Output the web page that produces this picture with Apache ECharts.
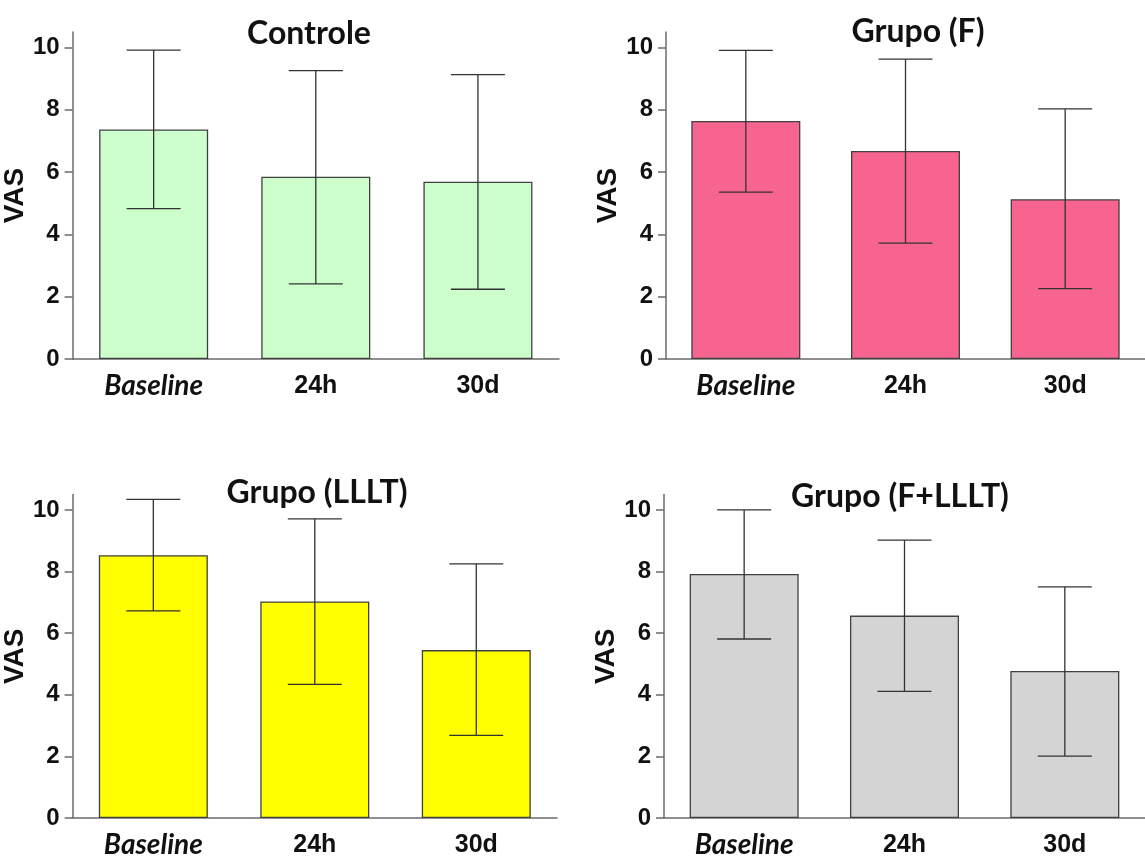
<!DOCTYPE html>
<html>
<head>
<meta charset="utf-8">
<script src="https://cdn.jsdelivr.net/npm/echarts@6/dist/echarts.min.js"></script>
<style>
  html, body { margin: 0; padding: 0; background: #fff; }
  #chart { width: 1145px; height: 859px; }
</style>
</head>
<body>
<div id="chart"></div>
<script>
const categories = ['Baseline', '24h', '30d'];
const yTicks = [0, 2, 4, 6, 8, 10];

// mean and error bar ends
const controleMean = [7.37, 5.85, 5.69];
const controleHigh = [9.92, 9.26, 9.13];
const controleLow = [4.83, 2.41, 2.24];

const fMean = [7.64, 6.68, 5.13];
const fHigh = [9.91, 9.63, 8.03];
const fLow = [5.36, 3.72, 2.26];

const llltMean = [8.53, 7.03, 5.45];
const llltHigh = [10.34, 9.71, 8.25];
const llltLow = [6.72, 4.34, 2.68];

const flllt_Mean = [7.92, 6.57, 4.77];
const flllt_High = [10.0, 9.02, 7.5];
const flllt_Low = [5.81, 4.11, 2.01];

const panels = [
  { title: 'Controle', mean: controleMean, high: controleHigh, low: controleLow, color: '#ccffcc',
    grid: { left: 68, top: 32, width: 491, height: 327 }, titlePos: [309, 34] },
  { title: 'Grupo (F)', mean: fMean, high: fHigh, low: fLow, color: '#f7648f',
    grid: { left: 666, top: 32, width: 491, height: 327 }, titlePos: [918, 32] },
  { title: 'Grupo (LLLT)', mean: llltMean, high: llltHigh, low: llltLow, color: '#ffff00',
    grid: { left: 67, top: 494.5, width: 490, height: 327 }, titlePos: [317, 493] },
  { title: 'Grupo (F+LLLT)', mean: flllt_Mean, high: flllt_High, low: flllt_Low, color: '#d4d4d4',
    grid: { left: 664, top: 494.5, width: 491, height: 327 }, titlePos: [900, 497] }
];

const axisColor = '#6b6b6b';

const chart = echarts.init(document.getElementById('chart'));

const option = {
  animation: false,
  grid: panels.map(p => p.grid),
  xAxis: panels.map((p, i) => ({
    type: 'category',
    gridIndex: i,
    data: categories,
    axisLine: { lineStyle: { color: axisColor, width: 1.5 } },
    axisTick: { alignWithLabel: true, length: 8, lineStyle: { color: axisColor, width: 1.5 } },
    axisLabel: {
      interval: 0,
      margin: 12,
      color: '#111',
      formatter: v => v === 'Baseline' ? '{it|' + v + '}' : '{n|' + v + '}',
      rich: {
        it: { fontFamily: 'Lato', fontWeight: 'bold', fontStyle: 'italic', fontSize: 28, lineHeight: 30, color: '#111' },
        n: { fontFamily: 'Liberation Sans', fontWeight: 'bold', fontSize: 25, lineHeight: 30, color: '#111' }
      }
    }
  })),
  yAxis: panels.map((p, i) => ({
    type: 'value',
    gridIndex: i,
    min: 0,
    max: 10.5,
    interval: 2,
    name: 'VAS',
    nameLocation: 'middle',
    nameGap: 34,
    nameTextStyle: { fontFamily: 'Liberation Sans', fontWeight: 'bold', fontSize: 28, color: '#111' },
    splitLine: { show: false },
    axisLine: { show: true, lineStyle: { color: axisColor, width: 1.5 } },
    axisTick: { show: true, length: 8, lineStyle: { color: axisColor, width: 1.5 } },
    axisLabel: {
      margin: 13,
      showMaxLabel: false,
      fontFamily: 'Liberation Sans',
      fontWeight: 'bold',
      fontSize: 24,
      color: '#111',
      formatter: v => yTicks.indexOf(v) >= 0 ? String(v) : ''
    }
  })),
  graphic: panels.map(p => ({
    type: 'text',
    x: p.titlePos[0],
    y: p.titlePos[1],
    style: {
      text: p.title,
      align: 'center',
      verticalAlign: 'middle',
      font: 'bold 32px Lato',
      fill: '#111'
    }
  })),
  series: []
};

panels.forEach((p, i) => {
  option.series.push({
    type: 'bar',
    xAxisIndex: i,
    yAxisIndex: i,
    data: p.mean,
    barWidth: 109,
    itemStyle: { color: p.color, borderColor: '#404040', borderWidth: 1.3 }
  });
  option.series.push({
    type: 'custom',
    xAxisIndex: i,
    yAxisIndex: i,
    data: categories.map((c, k) => [k, p.low[k], p.high[k]]),
    encode: { x: 0, y: [1, 2] },
    z: 5,
    renderItem: (params, api) => {
      const top = api.coord([api.value(0), api.value(2)]);
      const bot = api.coord([api.value(0), api.value(1)]);
      const half = 27;
      const style = { stroke: '#333', lineWidth: 1.3, fill: null };
      return {
        type: 'group',
        children: [
          { type: 'line', shape: { x1: top[0], y1: top[1], x2: bot[0], y2: bot[1] }, style },
          { type: 'line', shape: { x1: top[0] - half, y1: top[1], x2: top[0] + half, y2: top[1] }, style },
          { type: 'line', shape: { x1: bot[0] - half, y1: bot[1], x2: bot[0] + half, y2: bot[1] }, style }
        ]
      };
    }
  });
});

chart.setOption(option);
window.addEventListener('resize', () => chart.resize());
</script>
</body>
</html>
